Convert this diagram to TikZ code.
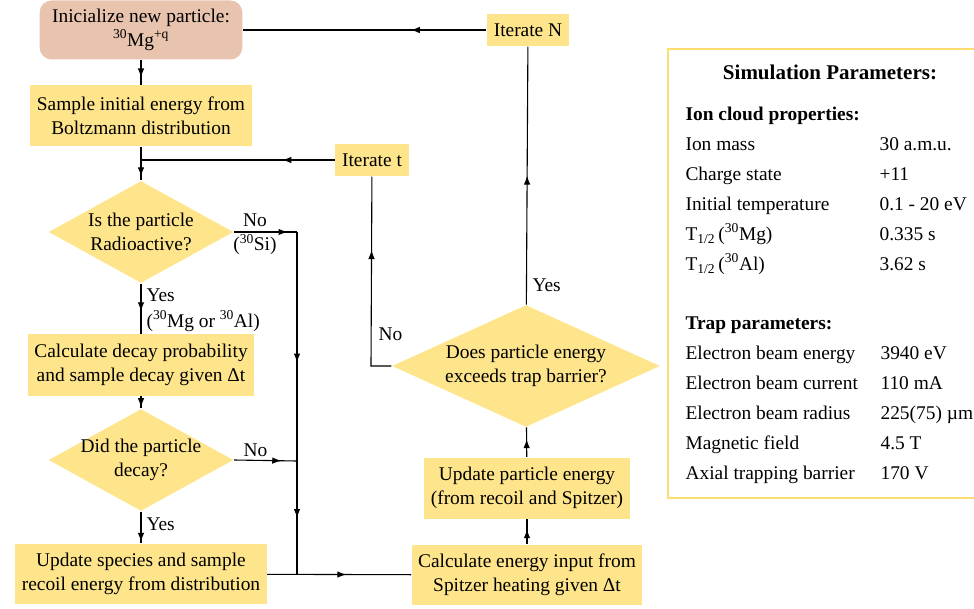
\documentclass[tikz,border=0pt]{standalone}
\usepackage{fontspec}
\setmainfont{Liberation Serif}
\usetikzlibrary{shapes.geometric,arrows.meta,decorations.markings}

\definecolor{boxyellow}{RGB}{254,229,139}
\definecolor{startpink}{RGB}{232,196,174}
\definecolor{panelline}{RGB}{252,221,112}

% arrow head placed part way along a path
\tikzset{
  mid/.style={decoration={markings,
      mark=at position #1 with {\arrow{Latex[length=9pt,width=6.5pt]}}},
    postaction={decorate}},
}

\begin{document}
\begin{tikzpicture}
  [x=1pt,y=-1pt,line width=1.1pt,
   every node/.style={font=\fontsize{19.4}{23.5}\selectfont},
   block/.style={rectangle,fill=boxyellow,align=center,inner xsep=6.5pt,minimum height=61pt},
   loopbox/.style={rectangle,fill=boxyellow,inner xsep=7pt,minimum height=32pt},
   decision/.style={diamond,fill=boxyellow,align=center,aspect=1.8,inner sep=-4pt,
     minimum width=185pt,minimum height=102pt},
   lbl/.style={anchor=base west,inner sep=0pt},
   param/.style={anchor=west,inner sep=0pt,text height=13pt,text depth=4pt}]
  \useasboundingbox (0,0) rectangle (974,609);

  % left column
  \node[rectangle,rounded corners=12pt,fill=startpink,align=center,inner xsep=12.5pt,
    minimum height=59pt] (init) at (141,30) {Inicialize new particle:\\\textsuperscript{30}Mg\textsuperscript{+q}};
  \node[block] (sample) at (141,116) {Sample initial energy from\\Boltzmann distribution};
  \node[decision] (rad) at (141,232) {Is the particle\\Radioactive?};
  \node[block] (prob) at (141,365) {Calculate decay probability\\and sample decay given Δt};
  \node[decision] (decay) at (141,460) {Did the particle\\decay?};
  \node[block,minimum height=60pt] (species) at (141,574) {Update species and sample\\recoil energy from distribution};

  % right column
  \node[block,minimum height=60pt] (spitzer) at (527,575) {Calculate energy input from\\Spitzer heating given Δt};
  \node[block] (energy) at (527,488) {Update particle energy\\(from recoil and Spitzer)};
  \node[decision,aspect=2.2,minimum width=268pt,minimum height=122pt] (barrier) at (526,366) {Does particle energy\\exceeds trap barrier?};
  \node[loopbox] (itt) at (372,160) {Iterate t};
  \node[loopbox] (itn) at (528,30) {Iterate N};

  \coordinate (j0) at (141,160);
  \coordinate (j1) at (297,232);
  \coordinate (j2) at (297,461);
  \coordinate (j3) at (297,575);
  \coordinate (k1) at (371,366);

  \draw[mid=0.7] (init) -- (sample);
  \draw (sample) -- (j0);
  \draw[mid=0.8] (j0) -- (rad);
  \draw[mid=0.27] (itt) -- (j0);
  \draw[mid=0.55] (rad) -- (prob);
  \draw[mid=0.9] (prob) -- (decay);
  \draw[mid=0.95] (decay) -- (species);
  \draw[mid=0.85] (rad) -- (j1);
  \draw[mid=0.57] (j1) -- (j2);
  \draw[mid=0.75] (decay.east) -- (j2);
  \draw[mid=0.5] (j2) -- (j3);
  \draw[mid=0.55] (species) -- (spitzer);
  \draw[mid=0.6] (spitzer) -- (energy);
  \draw[mid=0.6] (energy) -- (barrier);
  \draw[mid=0.5] (barrier) -- (itn);
  \draw[mid=0.65] (barrier.west) -- (k1) -- (itt);
  \draw[mid=0.31] (itn) -- (init);

  % branch labels
  \node[anchor=base,inner sep=0pt] (no1) at (255,227) {No};
  \node[anchor=base,inner sep=0pt] (si) at (255,251) {(\textsuperscript{30}Si)};
  \node[lbl] (yes1) at (146,302) {Yes};
  \node[lbl] (mgal) at (146,327) {(\textsuperscript{30}Mg or \textsuperscript{30}Al)};
  \node[lbl] (no2) at (243,456) {No};
  \node[lbl] (yes2) at (146,530) {Yes};
  \node[lbl] (yes3) at (532,292) {Yes};
  \node[lbl] (no3) at (378,341) {No};

  % parameter panel
  \draw[panelline,line width=1.2pt] (668,49) rectangle (1000,498);
  \node[font=\fontsize{21}{25}\selectfont\bfseries] (simpar) at (830,72) {Simulation Parameters:};
  \node[param,font=\fontsize{19.4}{23.5}\selectfont\bfseries] (ionhead) at (685,116) {Ion cloud properties:};
  \foreach \name/\val [count=\i] in {Ion mass/30 a.m.u., Charge state/+11,
      Initial temperature/0.1 - 20 eV,
      {T\textsubscript{1/2}\,(\textsuperscript{30}Mg)}/0.335 s,
      {T\textsubscript{1/2}\,(\textsuperscript{30}Al)}/3.62 s}
  {
    \node[param] (ion\i) at (685,116+30*\i) {\name};
    \node[param] (ionv\i) at (879,116+30*\i) {\val};
  }
  \node[param,font=\fontsize{19.4}{23.5}\selectfont\bfseries] (traphead) at (685,325) {Trap parameters:};
  \foreach \name/\val [count=\i] in {Electron beam energy/3940 eV,
      Electron beam current/110 mA, Electron beam radius/225(75) µm,
      Magnetic field/4.5 T, Axial trapping barrier/170 V}
  {
    \node[param] (trap\i) at (685,325+30*\i) {\name};
    \node[param] (trapv\i) at (880,325+30*\i) {\val};
  }
\end{tikzpicture}
\end{document}
